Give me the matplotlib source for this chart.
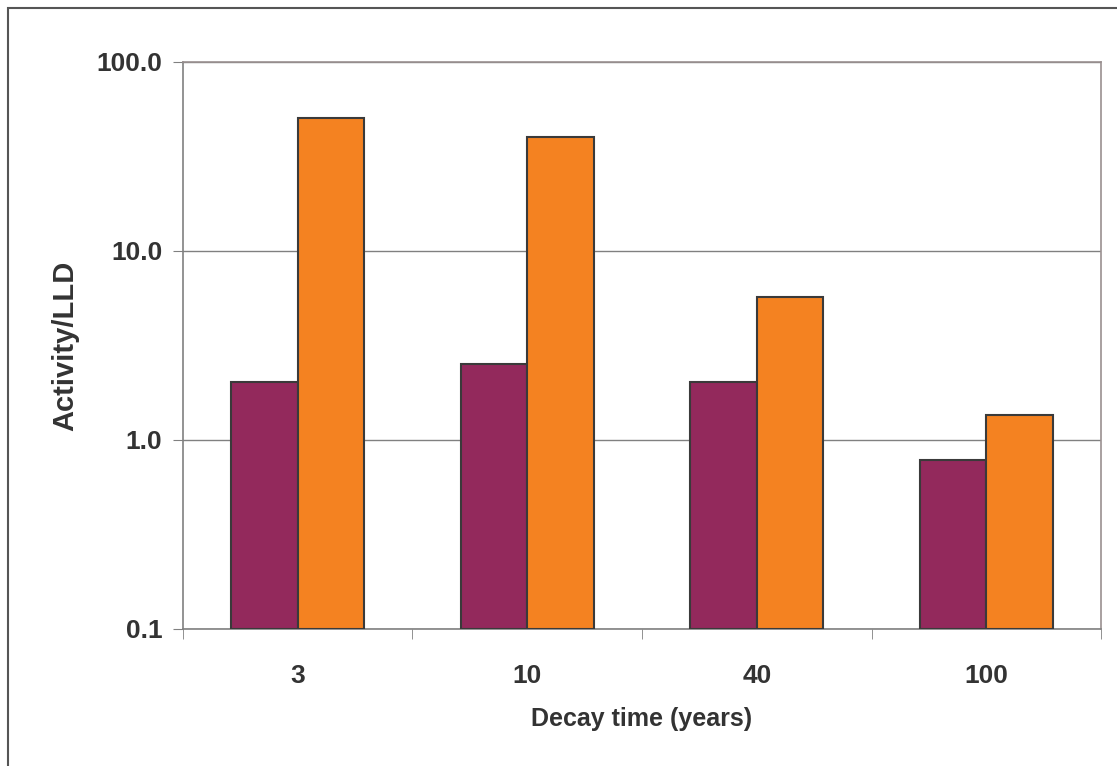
import numpy as np
import matplotlib.pyplot as plt
from matplotlib.patches import Rectangle

# decay times and activity/LLD ratios for the two series
categories = ['3', '10', '40', '100']
series_a = [2.03, 2.52, 2.03, 0.78]
series_b = [50.5, 40.0, 5.7, 1.35]

plt.rcParams['font.family'] = ['Liberation Sans', 'DejaVu Sans']
txt = '#333333'
base = 0.1

fig = plt.figure(figsize=(11.17, 7.66), dpi=100)
ax = fig.add_axes([0.1638, 0.1789, 0.8219, 0.7402])

x = np.arange(len(categories))
w = 0.29
ax.bar(x - w / 2, np.array(series_a) - base, w, bottom=base, color='#93295C',
       edgecolor='#3a3a3a', linewidth=1.5, zorder=3)
ax.bar(x + w / 2, np.array(series_b) - base, w, bottom=base, color='#F48221',
       edgecolor='#3a3a3a', linewidth=1.5, zorder=3)

ax.set_yscale('log')
ax.set_ylim(0.1, 100)
ax.set_xlim(-0.5, len(categories) - 0.5)
ax.set_yticks([0.1, 1, 10, 100])
ax.set_yticklabels(['0.1', '1.0', '10.0', '100.0'])
ax.minorticks_off()
ax.yaxis.grid(True, color='#808080', linewidth=1, zorder=0)

ax.set_xticks(x)
ax.set_xticklabels(categories)
ax.set_xticks(np.arange(len(categories) + 1) - 0.5, minor=True)
ax.tick_params(axis='x', which='major', length=0, pad=25)
ax.tick_params(axis='x', which='minor', length=7, color='#808080', direction='out')
ax.tick_params(axis='y', length=7, color='#808080', pad=8)
ax.tick_params(labelsize=19, labelcolor=txt)
for lab in ax.get_xticklabels() + ax.get_yticklabels():
    lab.set_fontweight('bold')

for s in ax.spines.values():
    s.set_color('#9a9090')
    s.set_linewidth(1.2)
ax.spines['left'].set_color('#808080')
ax.spines['bottom'].set_color('#808080')

ax.set_xlabel('Decay time (years)', fontsize=18, fontweight='bold', color=txt, labelpad=14)
ax.set_ylabel('Activity/LLD', fontsize=21, fontweight='bold', color=txt, labelpad=12)

# outer frame
fig.patches.append(Rectangle((8 / 1117, -0.01), 1.1, 1 - 8 / 766 + 0.01, transform=fig.transFigure,
                             fill=False, edgecolor='#555555', linewidth=1.5))

fig.savefig('out.png', dpi=100)
